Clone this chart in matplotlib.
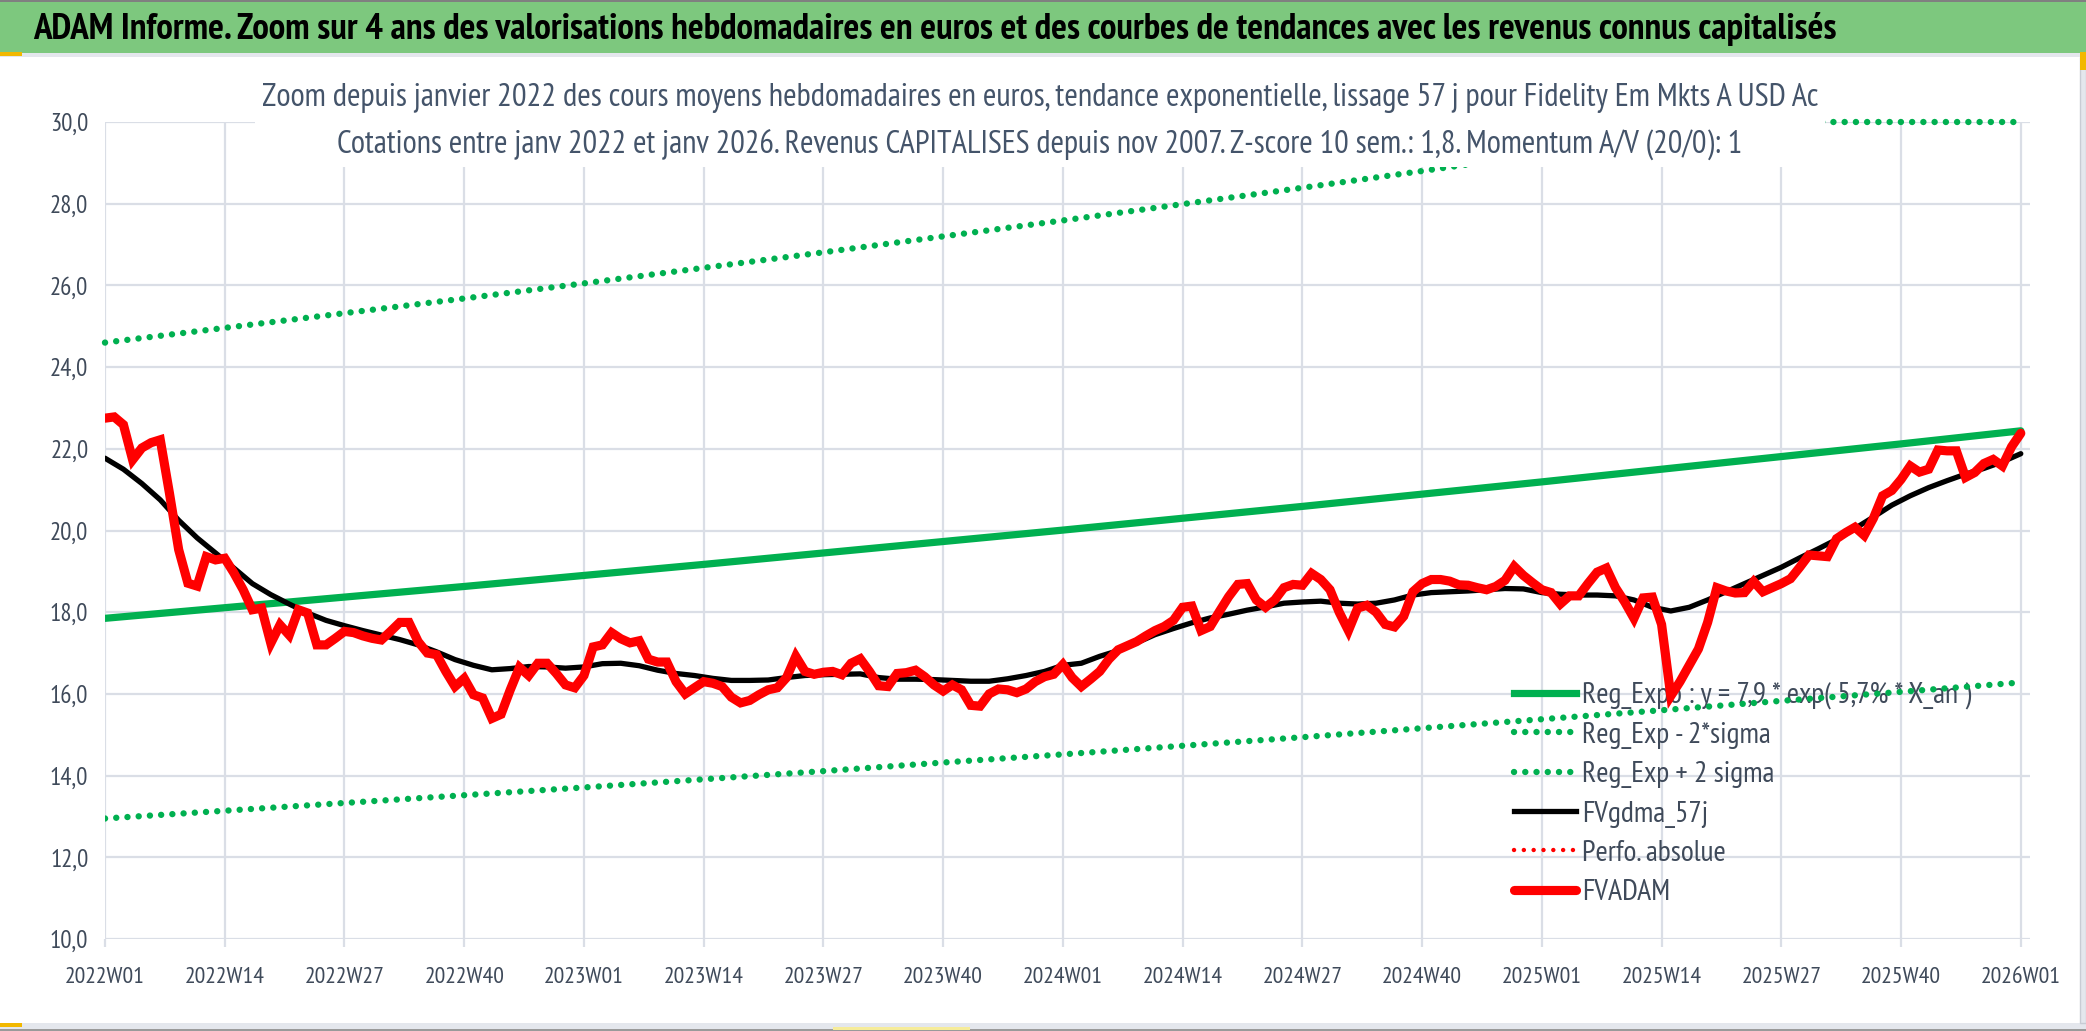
import numpy as np
import matplotlib
matplotlib.use('Agg')
import matplotlib.pyplot as plt
from matplotlib import font_manager
from matplotlib.lines import Line2D
from matplotlib.patches import Rectangle

# ---- data ----
tick_labels = ['2022W01', '2022W14', '2022W27', '2022W40', '2023W01', '2023W14', '2023W27',
               '2023W40', '2024W01', '2024W14', '2024W27', '2024W40', '2025W01', '2025W14',
               '2025W27', '2025W40', '2026W01']

# FVADAM, one value per week (2022W01 .. 2026W01)
fvadam = [22.75, 22.78, 22.59, 21.73, 22.02, 22.15, 22.22, 20.91, 19.53, 18.71, 18.64, 19.36, 19.28,
          19.32, 18.96, 18.55, 18.06, 18.10, 17.24, 17.69, 17.44, 18.06, 17.98, 17.20, 17.20, 17.36,
          17.53, 17.50, 17.42, 17.36, 17.32, 17.53, 17.75, 17.75, 17.28, 17.00, 16.96, 16.55, 16.18,
          16.38, 15.98, 15.90, 15.40, 15.50, 16.10, 16.65, 16.45, 16.75, 16.75, 16.50, 16.22, 16.15,
          16.45, 17.15, 17.20, 17.50, 17.35, 17.25, 17.30, 16.85, 16.78, 16.78, 16.30, 16.00, 16.15,
          16.30, 16.26, 16.18, 15.92, 15.78, 15.84, 15.98, 16.10, 16.15, 16.40, 16.92, 16.55, 16.48,
          16.53, 16.55, 16.47, 16.75, 16.86, 16.55, 16.20, 16.18, 16.50, 16.52, 16.58, 16.42, 16.22,
          16.07, 16.22, 16.10, 15.72, 15.70, 16.00, 16.12, 16.10, 16.03, 16.12, 16.30, 16.42, 16.48,
          16.72, 16.40, 16.18, 16.36, 16.55, 16.85, 17.08, 17.18, 17.28, 17.42, 17.55, 17.65, 17.80,
          18.12, 18.15, 17.55, 17.65, 18.02, 18.38, 18.68, 18.70, 18.30, 18.12, 18.30, 18.60, 18.68,
          18.66, 18.95, 18.80, 18.55, 18.00, 17.55, 18.10, 18.17, 18.00, 17.70, 17.64, 17.90, 18.50,
          18.70, 18.80, 18.80, 18.76, 18.67, 18.66, 18.60, 18.55, 18.63, 18.78, 19.12, 18.90, 18.72,
          18.55, 18.48, 18.20, 18.40, 18.40, 18.70, 18.98, 19.08, 18.60, 18.25, 17.85, 18.35, 18.37,
          17.70, 15.95, 16.30, 16.70, 17.10, 17.75, 18.60, 18.52, 18.47, 18.48, 18.75, 18.50, 18.60,
          18.70, 18.82, 19.10, 19.40, 19.38, 19.36, 19.80, 19.95, 20.08, 19.88, 20.30, 20.85, 20.98,
          21.25, 21.58, 21.43, 21.50, 21.97, 21.95, 21.95, 21.30, 21.42, 21.64, 21.74, 21.58, 22.05,
          22.38]

# FVgdma_57j, read every second week
fvgdma = [21.77, 21.50, 21.15, 20.75, 20.25, 19.82, 19.45, 19.08, 18.70, 18.43, 18.20, 17.98, 17.80,
          17.67, 17.55, 17.44, 17.33, 17.20, 17.03, 16.84, 16.70, 16.59, 16.62, 16.67, 16.66, 16.63,
          16.66, 16.74, 16.75, 16.69, 16.58, 16.50, 16.45, 16.38, 16.33, 16.33, 16.34, 16.40, 16.45,
          16.47, 16.48, 16.49, 16.40, 16.36, 16.36, 16.35, 16.33, 16.31, 16.31, 16.37, 16.45, 16.55,
          16.70, 16.75, 16.92, 17.06, 17.25, 17.45, 17.60, 17.74, 17.86, 17.95, 18.05, 18.13, 18.22,
          18.25, 18.27, 18.22, 18.20, 18.22, 18.30, 18.42, 18.48, 18.50, 18.52, 18.55, 18.58, 18.57,
          18.48, 18.44, 18.42, 18.42, 18.40, 18.30, 18.12, 18.03, 18.12, 18.30, 18.50, 18.70, 18.90,
          19.10, 19.33, 19.55, 19.78, 20.05, 20.33, 20.62, 20.85, 21.05, 21.22, 21.38, 21.52, 21.68,
          21.88]

# trend curves, read at each labelled week
reg_expo = [17.85, 18.11, 18.37, 18.63, 18.90, 19.17, 19.45, 19.73, 20.01, 20.30, 20.59, 20.89,
            21.19, 21.50, 21.81, 22.12, 22.44]
reg_minus = [12.95, 13.14, 13.33, 13.52, 13.71, 13.91, 14.11, 14.32, 14.52, 14.73, 14.94, 15.16,
             15.38, 15.60, 15.83, 16.05, 16.28]
reg_plus = [24.60, 24.96, 25.32, 25.68, 26.05, 26.43, 26.81, 27.20, 27.59, 27.99, 28.39, 28.80,
            29.22, 29.64, 30.00, 30.00, 30.00]

title = ("ADAM Informe. Zoom sur 4 ans des valorisations hebdomadaires en euros et des courbes "
         "de tendances avec les revenus connus capitalisés")
sub1 = ("Zoom depuis janvier 2022 des cours moyens hebdomadaires en euros, tendance exponentielle, "
        "lissage 57 j pour Fidelity Em Mkts A USD Ac")
sub2 = ("Cotations entre janv 2022 et janv 2026. Revenus CAPITALISES depuis nov 2007. "
        "Z-score 10 sem.: 1,8. Momentum A/V (20/0): 1")
labels = ['Reg_Expo : y = 7,9 * exp( 5,7% * X_an )', 'Reg_Exp - 2*sigma', 'Reg_Exp + 2 sigma',
          'FVgdma_57j', 'Perfo. absolue', 'FVADAM']

# ---- fonts: a narrow humanist face close to the condensed Calibri look ----
avail = {f.name for f in font_manager.fontManager.ttflist}
face = next((n for n in ['PT Sans Narrow', 'Fira Sans Condensed', 'Asap Condensed',
                         'Archivo Narrow', 'Roboto Condensed', 'Liberation Sans Narrow']
             if n in avail), 'DejaVu Sans')
plt.rcParams['font.family'] = [face, 'DejaVu Sans']

W, H = 2086, 1031
fig = plt.figure(figsize=(W / 100, H / 100), dpi=100)
fig.patch.set_facecolor('white')
renderer = fig.canvas.get_renderer()

def fx(px):
    return px / W

def fy(py):
    return 1 - py / H

def fit_size(s, target, **kw):
    # font size (pt) that gives the text the width seen in the reference
    t = fig.text(0, 0, s, fontsize=20, **kw)
    w = t.get_window_extent(renderer).width
    t.remove()
    return 20 * target / w

fs_title = fit_size(title, 1805, fontweight='bold')
fs_sub1 = fit_size(sub1, 1552)
fs_sub2 = fit_size(sub2, 1406)
fs_xt = fit_size('2022W01', 80)
fs_yt = fit_size('30,0', 38)
fs_leg = fit_size('Reg_Exp - 2*sigma', 189)

def band(x0, y0, x1, y1, color, z=0, **kw):
    fig.patches.append(Rectangle((fx(x0), fy(y1)), fx(x1 - x0), fy(y0) - fy(y1),
                                 transform=fig.transFigure, facecolor=color,
                                 edgecolor=kw.pop('ec', 'none'), zorder=z, **kw))

# frame pieces around the chart
band(0, 0, W, 53, '#7DC87E')
band(0, 53, W, 57, '#E4E7ED')
band(0, 0, W, 2, '#808080')
band(0, 1023, W, 1031, '#E4E7ED')
band(0, 1029, W, 1031, '#9A9A9A')
band(2080, 57, W, 1023, '#E4E7ED', ec='#C8CCD4', lw=1)
band(0, 52, 22, 56, '#F2B800')
band(2080, 52, W, 70, '#F2B800')
band(0, 1023, 22, 1027, '#F2B800')
band(833, 1027, 970, 1030, '#F6EC9A')

ax = fig.add_axes([fx(105), fy(939), fx(2030 - 105), fy(122) - fy(939)])
ax.set_facecolor('none')

weeks = np.arange(len(fvadam))
ticks = weeks[::13]
green = '#00B050'
dots = dict(lw=4.6, linestyle=(0, (0.01, 1.75)), dash_capstyle='round')

ax.plot(ticks, reg_minus, color=green, zorder=3, **dots)
ax.plot(ticks, reg_plus, color=green, zorder=3, clip_on=False, **dots)
ax.plot(ticks, reg_expo, color=green, lw=5.2, solid_capstyle='round', zorder=3)
ax.plot(weeks[::2], fvgdma, color='black', lw=3.8, solid_capstyle='round', zorder=4)
ax.plot(weeks, fvadam, color='#FF0000', lw=6.6, solid_capstyle='round',
        solid_joinstyle='miter', zorder=5)

ax.set_xlim(0, 209)
ax.set_ylim(10, 30)
ax.set_yticks(np.arange(10, 31, 2))
ax.set_yticklabels([f'{v:.1f}'.replace('.', ',') for v in np.arange(10, 31, 2)])
ax.set_xticks(ticks)
ax.set_xticklabels(tick_labels)
ax.set_axisbelow(True)
ax.grid(True, color='#DADEE6', lw=1.6, zorder=0)
for s in ax.spines.values():
    s.set_visible(False)
ax.tick_params(axis='x', length=6, width=1.6, color='#DADEE6', pad=14,
               labelsize=fs_xt, labelcolor='#3F4A5A')
ax.tick_params(axis='y', length=0, pad=12, labelsize=fs_yt, labelcolor='#3F4A5A')

handles = [Line2D([], [], color=green, lw=5.2),
           Line2D([], [], color=green, **dots),
           Line2D([], [], color=green, **dots),
           Line2D([], [], color='black', lw=3.8),
           Line2D([], [], color='#FF0000', lw=3.2, linestyle=(0, (0.01, 2.2)), dash_capstyle='round'),
           Line2D([], [], color='#FF0000', lw=6.6, solid_capstyle='round')]
em = fs_leg * 100 / 72
leg = ax.legend(handles, labels, loc='upper left', bbox_to_anchor=(fx(1514), fy(682)),
                bbox_transform=fig.transFigure, frameon=False, fontsize=fs_leg,
                handlelength=62 / em, handletextpad=6 / em, labelspacing=40 / em - 0.93,
                borderpad=0, borderaxespad=0)
leg.set_zorder(0.5)
for t in leg.get_texts():
    t.set_color('#3F4A5A')

# subtitle box covering the top of the plot
band(255, 70, 1825, 167, 'white', z=1)

fig.text(fx(33), fy(29), title, ha='left', va='center', fontsize=fs_title,
         fontweight='bold', color='black', zorder=2)
fig.text(fx(1040), fy(98), sub1, ha='center', va='center', fontsize=fs_sub1,
         color='#44546A', zorder=2)
fig.text(fx(1040), fy(145), sub2, ha='center', va='center', fontsize=fs_sub2,
         color='#44546A', zorder=2)

fig.savefig('out.png', dpi=100)
